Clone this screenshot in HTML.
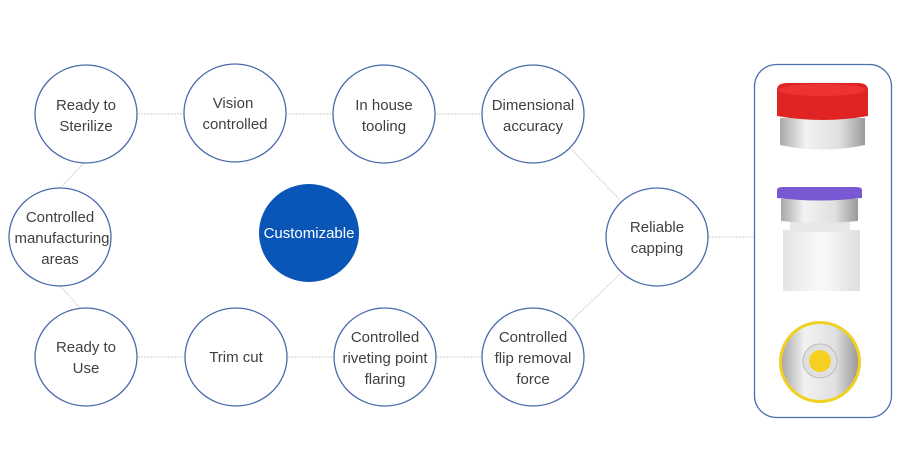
<!DOCTYPE html>
<html><head><style>
body{margin:0;background:#fff;}
svg text{font-family:"Liberation Sans",sans-serif;font-size:15px;fill:#404040;text-anchor:middle;}
</style></head><body>
<svg width="900" height="466" viewBox="0 0 900 466" xmlns="http://www.w3.org/2000/svg">
<defs>
<linearGradient id="sil" x1="0" x2="1"><stop offset="0" stop-color="#a8a8a8"/><stop offset=".3" stop-color="#f2f2f2"/><stop offset=".7" stop-color="#e0e0e0"/><stop offset="1" stop-color="#9a9a9a"/></linearGradient>
<linearGradient id="gl" x1="0" x2="1"><stop offset="0" stop-color="#e4e4e4"/><stop offset=".5" stop-color="#fafafa"/><stop offset="1" stop-color="#dedede"/></linearGradient>
</defs>
<g stroke="#cfcfcf" stroke-width="1" stroke-dasharray="2,1" fill="none">
<line x1="138" y1="114" x2="184" y2="114"/>
<line x1="287" y1="114" x2="333" y2="114"/>
<line x1="436" y1="114" x2="482" y2="114"/>
<line x1="138" y1="357" x2="185" y2="357"/>
<line x1="288" y1="357" x2="334" y2="357"/>
<line x1="437" y1="357" x2="482" y2="357"/>
<line x1="84" y1="163" x2="60" y2="188"/>
<line x1="60" y1="286" x2="80" y2="308"/>
<line x1="572" y1="150" x2="620" y2="200"/>
<line x1="572" y1="320" x2="620" y2="274"/>
<line x1="709" y1="237" x2="754" y2="237"/>
</g>
<g fill="#fff" stroke="#4a6aab" stroke-width="1.3">
<ellipse cx="86" cy="114" rx="51" ry="49"/>
<ellipse cx="235" cy="113" rx="51" ry="49"/>
<ellipse cx="384" cy="114" rx="51" ry="49"/>
<ellipse cx="533" cy="114" rx="51" ry="49"/>
<ellipse cx="60" cy="237" rx="51" ry="49"/>
<ellipse cx="657" cy="237" rx="51" ry="49"/>
<ellipse cx="86" cy="357" rx="51" ry="49"/>
<ellipse cx="236" cy="357" rx="51" ry="49"/>
<ellipse cx="385" cy="357" rx="51" ry="49"/>
<ellipse cx="533" cy="357" rx="51" ry="49"/>
</g>
<ellipse cx="309" cy="233" rx="50" ry="49" fill="#0a56b8"/>
<text x="309" y="238" style="fill:#fff;font-size:15px">Customizable</text>
<text x="86" y="110">Ready to</text><text x="86" y="131">Sterilize</text>
<text x="233" y="108">Vision</text><text x="235" y="129">controlled</text>
<text x="384" y="110">In house</text><text x="384" y="131">tooling</text>
<text x="533" y="110">Dimensional</text><text x="533" y="131">accuracy</text>
<text x="60" y="222">Controlled</text><text x="62" y="243">manufacturing</text><text x="60" y="264">areas</text>
<text x="657" y="232">Reliable</text><text x="657" y="253">capping</text>
<text x="86" y="352">Ready to</text><text x="86" y="373">Use</text>
<text x="236" y="362">Trim cut</text>
<text x="385" y="342">Controlled</text><text x="385" y="363">riveting point</text><text x="385" y="384">flaring</text>
<text x="533" y="342">Controlled</text><text x="533" y="363">flip removal</text><text x="533" y="384">force</text>
<rect x="754.5" y="64.5" width="137" height="353" rx="22" fill="#fff" stroke="#4a70b0" stroke-width="1.3"/>
<!-- red cap -->
<path d="M780 118 h85 v27 q-42 9 -85 0z" fill="url(#sil)"/>
<path d="M777 90 q0 -7 10 -7 h71 q10 0 10 7 v26 q-45 8 -91 0z" fill="#e02424"/>
<ellipse cx="822" cy="90" rx="44" ry="6" fill="#ec3232"/>
<!-- vial -->
<rect x="783" y="230" width="77" height="61" fill="url(#gl)"/>
<rect x="790" y="221" width="60" height="11" fill="#e8e8e8"/>
<path d="M781 199 h77 v22 q-38 4 -77 0z" fill="url(#sil)"/>
<path d="M777 190 q0 -3 6 -3 h73 q6 0 6 3 v8 q-42 5 -85 0z" fill="#7a58d4"/>
<!-- yellow cap top -->
<circle cx="820" cy="362" r="41" fill="#f0d020"/>
<circle cx="820" cy="362" r="38" fill="url(#sil)"/>
<circle cx="820" cy="361" r="17" fill="#e0e0e0" stroke="#bbb"/>
<circle cx="820" cy="361" r="11" fill="#f5d020"/>
</svg>
</body></html>
